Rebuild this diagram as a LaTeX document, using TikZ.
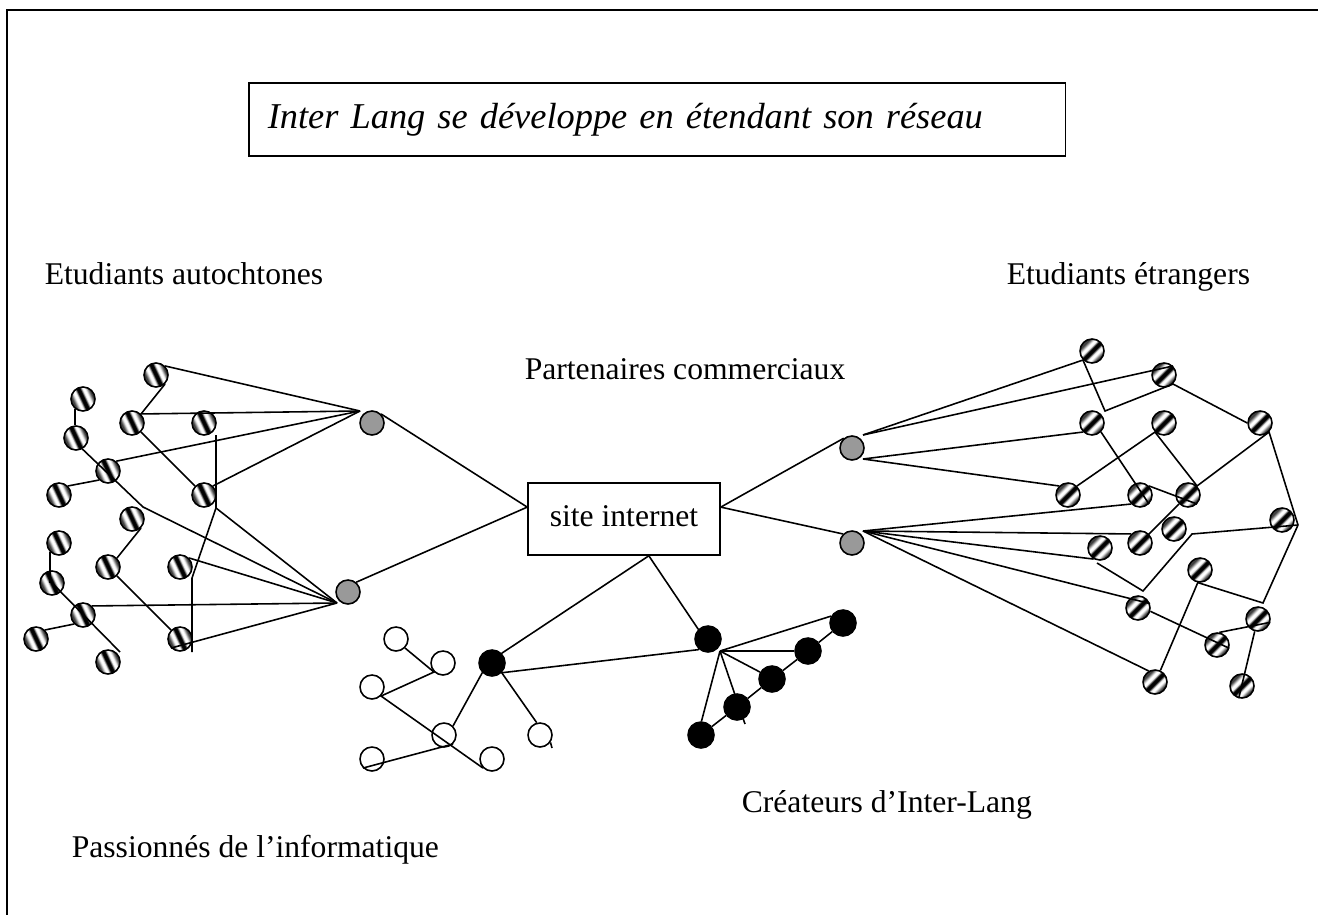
\documentclass[tikz,border=0pt]{standalone}
\usepackage{fontspec}
\setmainfont{Liberation Serif}
\usepackage{tikz}
\usetikzlibrary{positioning}
\definecolor{mygray}{gray}{0.6}
\definecolor{myrim}{gray}{0.25}
\pgfdeclarehorizontalshading{stripes}{100bp}{color(0bp)=(myrim); color(30bp)=(myrim); color(37bp)=(white); color(42bp)=(white); color(47bp)=(black); color(53bp)=(black); color(58bp)=(white); color(63bp)=(white); color(70bp)=(myrim); color(100bp)=(myrim)}
\newcommand{\netfont}{\fontsize{18}{22}\selectfont}

\begin{document}
\begin{tikzpicture}[x=0.02cm, y=-0.02cm, line width=0.9pt, font=\netfont,
    stripeL/.style={circle, draw, inner sep=0pt, minimum size=0.48cm, shade, shading=stripes, shading angle=25},
    stripeR/.style={stripeL, shading angle=-45},
    relay/.style={circle, draw, inner sep=0pt, minimum size=0.48cm, fill=mygray},
    member/.style={circle, draw, inner sep=0pt, minimum size=0.48cm, fill=white},
    founder/.style={circle, draw, fill=black, inner sep=0pt, minimum size=0.52cm},
    grouptext/.style={anchor=base west, inner sep=0pt},
    titlebox/.style={draw, anchor=north west, inner xsep=0.38cm, text width=15.58cm, minimum height=1.46cm, align=left, font=\fontsize{20.7}{24}\selectfont\itshape},
    sitebox/.style={draw, minimum width=3.84cm, minimum height=1.44cm, text depth=0.3em}]
    \useasboundingbox (0,0) rectangle (1318,915);
    \draw[line width=0.8pt] (7,915) -- (7,10) -- (1318,10);

    % titre
    \node[titlebox] (title) at (248,82) {Inter Lang se développe en étendant son réseau};

    % groupes
    \node[grouptext] (loctext) at (44,285) {Etudiants autochtones};
    \node[grouptext] (etrtext) at (1006,285) {Etudiants étrangers};
    \node[grouptext] (partext) at (524,379) {Partenaires commerciaux};
    \node[grouptext] (creatext) at (741,812) {Créateurs d’Inter-Lang};
    \node[grouptext] (infotext) at (71,857) {Passionnés de l’informatique};

    % site internet
    \node[sitebox] (site) at (624,519) {site internet};

    % partenaires
    \node[relay] (parL1) at (372,423) {};
    \node[relay] (parL2) at (348,592) {};
    \node[relay] (parR1) at (852,448) {};
    \node[relay] (parR2) at (852,543) {};

    % etudiants autochtones
    \node[stripeL] (loc1) at (156,375) {};
    \node[stripeL] (loc2) at (83,399) {};
    \node[stripeL] (loc3) at (132,423) {};
    \node[stripeL] (loc4) at (204,423) {};
    \node[stripeL] (loc5) at (76,438) {};
    \node[stripeL] (loc6) at (108,471) {};
    \node[stripeL] (loc7) at (59,495) {};
    \node[stripeL] (loc8) at (204,495) {};
    \node[stripeL] (loc9) at (132,519) {};
    \node[stripeL] (loc10) at (59,543) {};
    \node[stripeL] (loc11) at (108,567) {};
    \node[stripeL] (loc12) at (180,567) {};
    \node[stripeL] (loc13) at (52,583) {};
    \node[stripeL] (loc14) at (83,615) {};
    \node[stripeL] (loc15) at (36,639) {};
    \node[stripeL] (loc16) at (180,639) {};
    \node[stripeL] (loc17) at (108,662) {};

    % etudiants etrangers
    \node[stripeR] (etr1) at (1092,351) {};
    \node[stripeR] (etr2) at (1164,375) {};
    \node[stripeR] (etr3) at (1092,423) {};
    \node[stripeR] (etr4) at (1164,423) {};
    \node[stripeR] (etr5) at (1260,423) {};
    \node[stripeR] (etr6) at (1068,495) {};
    \node[stripeR] (etr7) at (1140,495) {};
    \node[stripeR] (etr8) at (1188,495) {};
    \node[stripeR] (etr9) at (1282,520) {};
    \node[stripeR] (etr10) at (1174,529) {};
    \node[stripeR] (etr11) at (1140,543) {};
    \node[stripeR] (etr12) at (1100,548) {};
    \node[stripeR] (etr13) at (1200,570) {};
    \node[stripeR] (etr14) at (1138,608) {};
    \node[stripeR] (etr15) at (1258,619) {};
    \node[stripeR] (etr16) at (1217,645) {};
    \node[stripeR] (etr17) at (1155,682) {};
    \node[stripeR] (etr18) at (1242,686) {};

    % passionnes de l'informatique
    \node[member] (info1) at (396,639) {};
    \node[member] (info2) at (443,663) {};
    \node[member] (info3) at (372,687) {};
    \node[member] (info4) at (444,735) {};
    \node[member] (info5) at (540,735) {};
    \node[member] (info6) at (372,759) {};
    \node[member] (info7) at (492,759) {};

    % createurs
    \node[founder] (crea1) at (492,663) {};
    \node[founder] (crea2) at (708,639) {};
    \node[founder] (crea3) at (843,623) {};
    \node[founder] (crea4) at (808,651) {};
    \node[founder] (crea5) at (772,679) {};
    \node[founder] (crea6) at (737,707) {};
    \node[founder] (crea7) at (701,735) {};

    % liens gauche
    \coordinate (jl1) at (360,411);
    \coordinate (jl2) at (337,603);
    \coordinate (kl1) at (143,507);
    \coordinate (kl2) at (216,435);
    \coordinate (kl3) at (216,508);
    \coordinate (kl4) at (192,578);
    \coordinate (kl5) at (192,652);
    \coordinate (kl6) at (120,652);
    \draw (loc1.45) -- (jl1);
    \draw (loc1.-45) -- (loc3.45) -- (jl1);
    \draw (loc6.50) -- (jl1);
    \draw (loc8.45) -- (jl1);
    \draw (loc3.-45) -- (loc8.135);
    \draw (loc2.-130) -- (loc2.-130 |- loc5.north);
    \draw (loc5.-60) -- (kl1) -- (jl2);
    \draw (loc7.45) -- (loc6.-135);
    \draw (kl2) -- (kl3) -- (jl2);
    \draw (kl3) -- (kl4) -- (kl5);
    \draw (loc9.-45) -- (loc11.45);
    \draw (loc12.45) -- (jl2);
    \draw (loc10.-135) -- (loc10.-135 |- loc13.center);
    \draw (loc14.45) -- (jl2);
    \draw (loc15.45) -- (loc14.-135);
    \draw (loc13.center) -- (kl6);
    \draw (loc11.-45) -- (loc16.135);
    \draw (loc16.-135) -- (jl2);

    % liens du site
    \draw (parL1.45) -- (site.173);
    \draw (parL2.50) -- (site.173);
    \draw (site.7) -- (parR1.130);
    \draw (site.7) -- (parR2.135);
    \draw (site.-56) -- (crea1.45);
    \draw (site.-56) -- (crea2.135);

    % liens droite
    \coordinate (jr1) at (863,435);
    \coordinate (jr2) at (863,459);
    \coordinate (jr3) at (863,531);
    \coordinate (kr1) at (1105,411);
    \coordinate (kr2) at (1298,525);
    \coordinate (kr3) at (1192,534);
    \coordinate (kr4) at (1143,591);
    \coordinate (kr5) at (1097,563);
    \coordinate (kr6) at (1263,603);
    \draw (jr1) -- (etr1.-135) -- (kr1) -- (etr2.-45) -- (etr5.west);
    \draw (jr1) -- (etr2.45);
    \draw (jr2) -- (etr3.-135);
    \draw (jr2) -- (etr6.135);
    \draw (etr3.-45) -- (etr7.-45);
    \draw (etr6.45) -- (etr4.-135) -- (etr8.45) -- (etr5.-45) -- (kr2);
    \draw (etr7.45) -- (etr8.-45);
    \draw (etr8.-135) -- (etr11.-135);
    \draw (kr2) -- (kr3) -- (kr4) -- (kr5);
    \draw (kr2) -- (kr6) -- (etr13.-100) -- (etr17.65);
    \draw (etr14.-15) -- (etr16.-15);
    \draw (etr16.80) -- (etr15.-15);
    \draw (etr15.-105) -- (etr18.-105);
    \draw (jr3) -- (etr7.-135);
    \draw (jr3) -- (etr11.135);
    \draw (jr3) -- (etr12.-120);
    \draw (jr3) -- (etr14.20);
    \draw (jr3) -- (etr17.120);

    % liens bas
    \coordinate (jb) at (720,651);
    \coordinate (kb1) at (552,748);
    \coordinate (kb2) at (745,724);
    \draw (info1.-45) -- (info2.-135) -- (info3.-45) -- (info7.-135);
    \draw (info6.-135) -- (info4.-45);
    \draw (info4.45) -- (crea1.-135);
    \draw (crea1.-45) -- (info5.105);
    \draw (info5.-35) -- (kb1);
    \draw (crea1.-45) -- (crea2.-130);
    \draw (jb) -- (crea3.150);
    \draw (jb) -- (crea4.west);
    \draw (jb) -- (crea5.150);
    \draw (jb) -- (kb2);
    \draw (jb) -- (crea7.88);
    \draw (crea7) -- (crea6) -- (crea5) -- (crea4) -- (crea3);
\end{tikzpicture}
\end{document}
